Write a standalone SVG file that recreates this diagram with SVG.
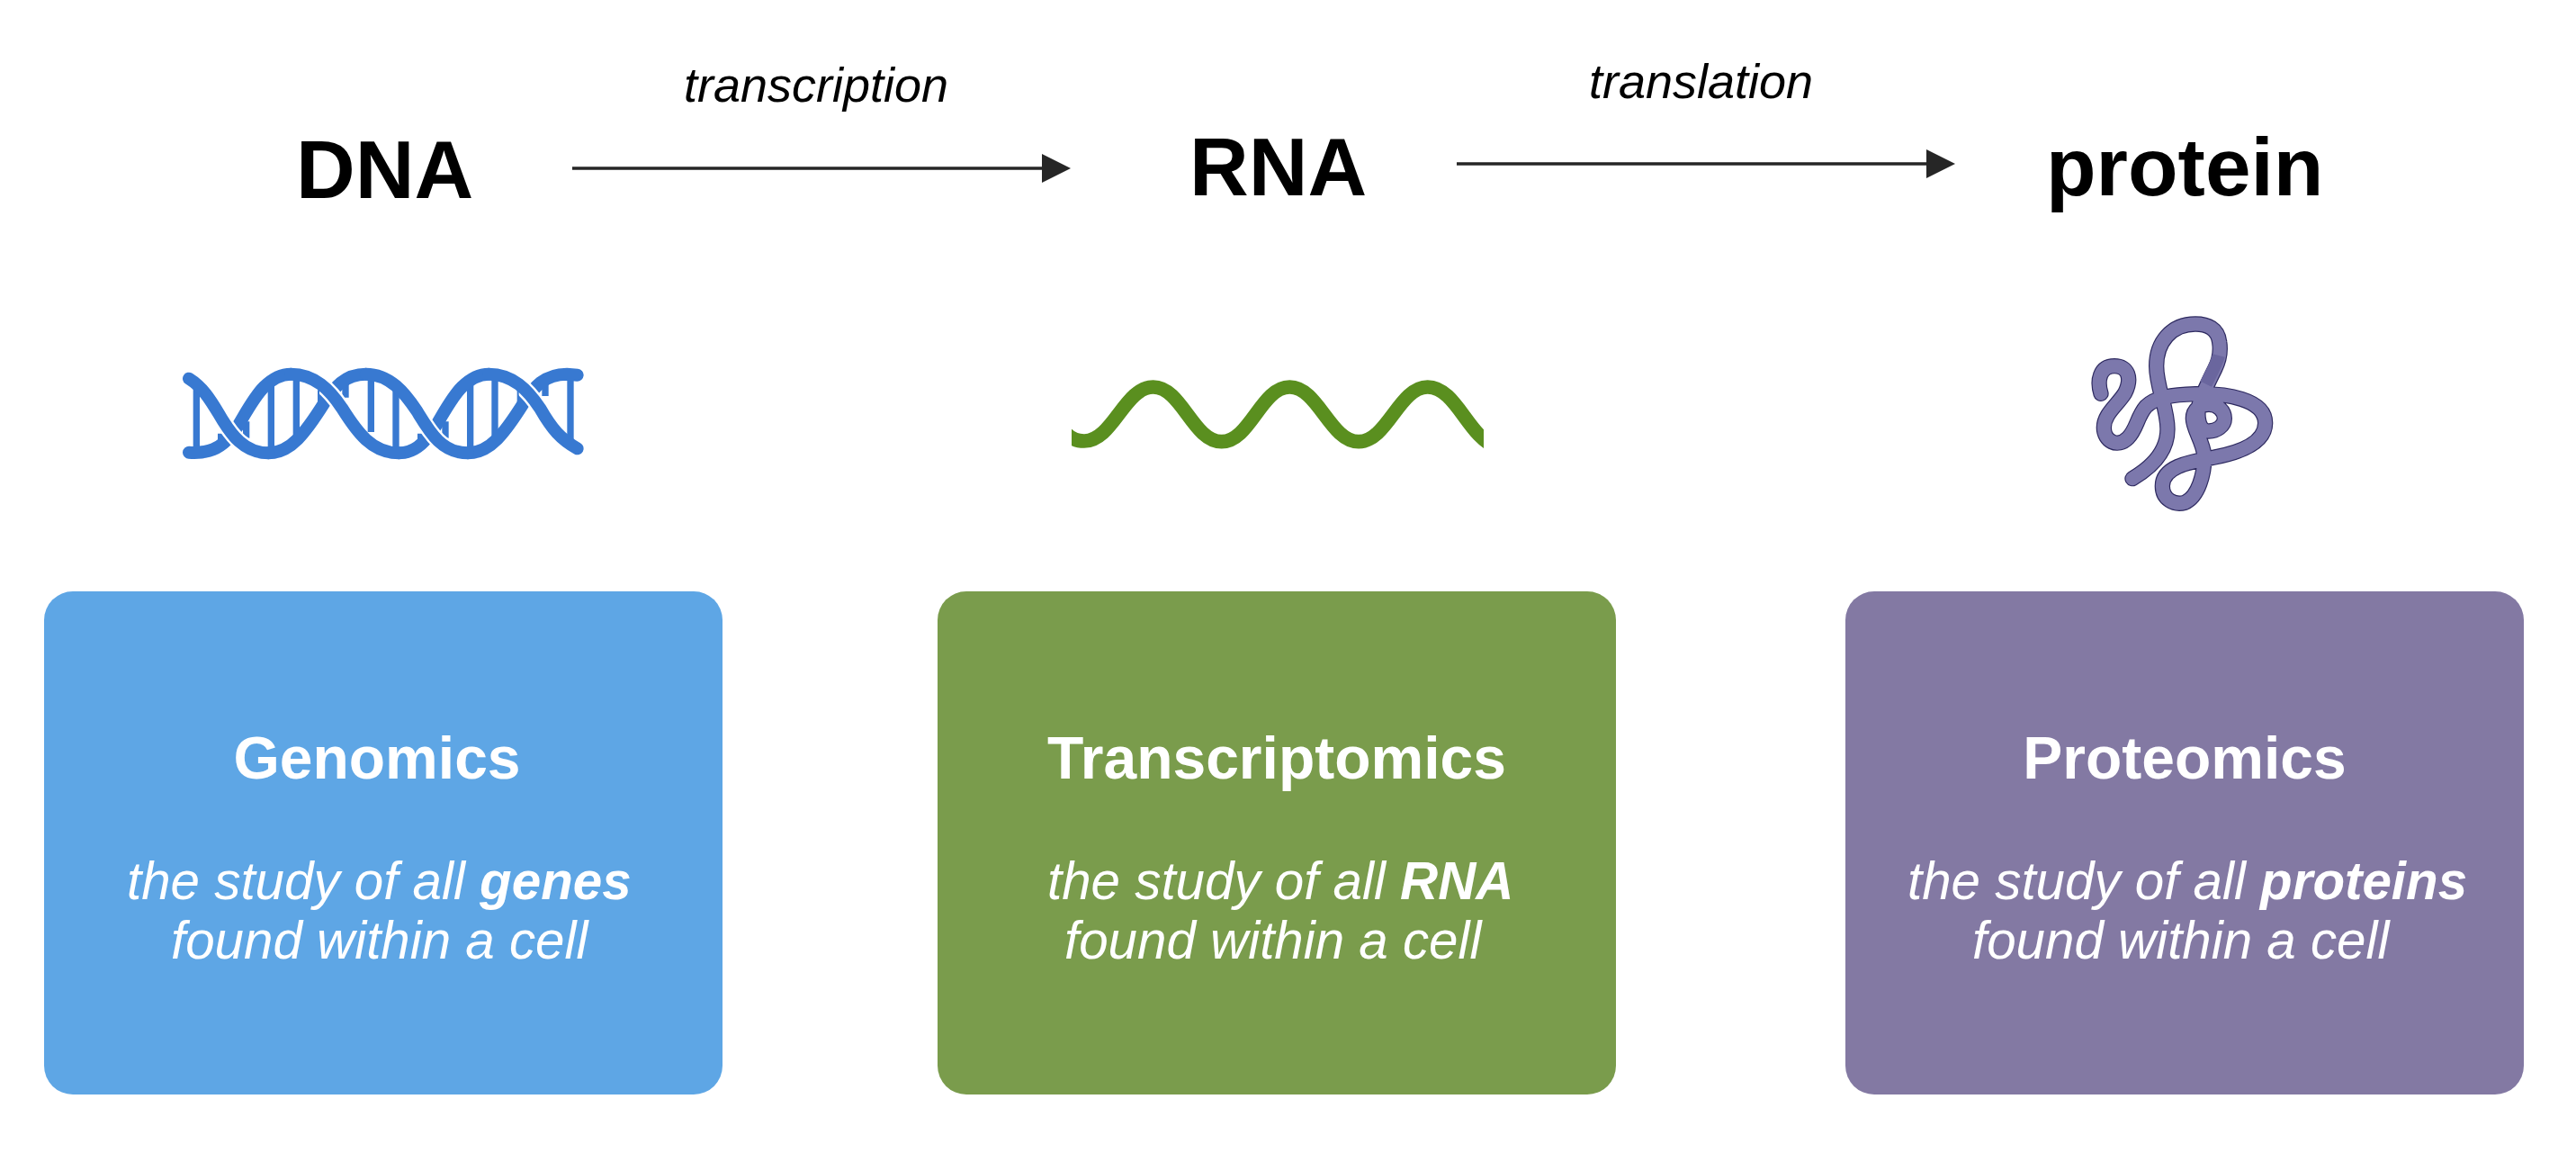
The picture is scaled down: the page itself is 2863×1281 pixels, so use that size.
<svg xmlns="http://www.w3.org/2000/svg" width="2863" height="1281" viewBox="0 0 2863 1281">
<style>
text{font-family:"Liberation Sans",Arial,sans-serif}
.head{font-size:91px;font-weight:700;fill:#000}
.rx{font-size:54px;font-style:italic;fill:#000}
.title{font-size:66px;font-weight:700;fill:#fff;text-anchor:middle}
.sub{font-size:58.3px;font-style:italic;fill:#fff}
.sub tspan{font-weight:700}
.box{stroke:none}
.conn{stroke:#262626;stroke-width:3.5;fill:none;marker-end:url(#ah)}
.dna{fill:none;stroke:#3879D1;stroke-width:42;stroke-linecap:round}
.halo{fill:none;stroke:#fff;stroke-width:56;stroke-linecap:butt}
.rung{stroke:#3879D1;stroke-width:22;fill:none}
.rna{fill:none;stroke:#5A8F1F;stroke-width:47}
.po{fill:none;stroke:#2E2A60;stroke-width:52;stroke-linecap:round;stroke-linejoin:round}
.pi{fill:none;stroke:#7C78AC;stroke-width:45;stroke-linecap:round;stroke-linejoin:round}
.ps{fill:none;stroke:#6A669E;stroke-width:42}
</style>
<defs>
<marker id="ah" markerUnits="userSpaceOnUse" markerWidth="32" markerHeight="32" refX="0" refY="16" orient="auto"><path d="M0,0L32,16L0,32Z" fill="#262626"/></marker>
<clipPath id="dnaclip"><rect x="185" y="245" width="115" height="115"/><rect x="525" y="110" width="90" height="110"/><rect x="845" y="245" width="115" height="115"/><rect x="1190" y="110" width="90" height="110"/></clipPath>
<clipPath id="rnaclip"><rect x="63" y="0" width="1374" height="340"/></clipPath>
<path id="tubepath" d="M105,322C92,280 100,230 150,230C195,230 210,270 185,320C160,360 115,390 115,435C115,480 160,505 195,470C225,440 225,400 255,365C285,335 340,325 420,323C520,320 653,340 653,420C653,490 560,520 480,535C400,550 310,565 310,630C310,675 350,695 385,685C430,665 450,590 450,530C445,480 412,440 412,405C412,375 435,358 465,358C495,358 517,380 517,405C517,430 490,447 465,447C428,447 425,395 432,360C440,330 470,270 485,240C500,210 505,180 500,150C495,105 460,90 420,90C340,90 290,150 290,230C290,300 327,370 327,440C327,520 270,570 210,605"/>
</defs>
<g id="connectors">
<line class="conn" x1="636" y1="187" x2="1158" y2="187"/>
<line class="conn" x1="1619" y1="182" x2="2141" y2="182"/>
</g>
<g id="label-transcription"><text class="rx" x="760" y="113">transcription</text></g>
<g id="label-translation"><text class="rx" x="1766" y="109">translation</text></g>
<g id="node-dna">
<text class="head" x="329" y="220">DNA</text>
<g transform="translate(180,380) scale(0.33333)">
<path class="rung" d="M115,150V355M197,305V350M281,265V320M364,130V355M448,110V340M530,160V215M612,125V185M697,110V300M780,140V355M863,305V350M945,265V320M1028,130V355M1110,110V340M1195,160V215M1278,125V180M1362,110V335"/>
<path class="dna" d="M90,368C150,372 195,360 240,300C265,265 300,190 340,150C370,120 400,107 430,107"/>
<path class="dna" d="M355,370C430,370 480,300 540,205C575,150 610,107 680,107"/>
<path class="dna" d="M790,370C840,370 870,340 900,300C925,265 960,190 1000,150C1030,120 1060,107 1090,107"/>
<path class="dna" d="M1020,370C1095,370 1145,300 1205,205C1240,150 1275,107 1350,107L1385,110"/>
<g clip-path="url(#dnaclip)">
<path class="halo" d="M90,122C135,150 160,190 190,240C230,310 275,370 355,370"/>
<path class="halo" d="M430,107C510,107 560,160 600,220C650,300 700,370 790,370"/>
<path class="halo" d="M680,107C760,107 810,170 850,230C890,295 930,370 1020,370"/>
<path class="halo" d="M1090,107C1170,107 1220,160 1260,220C1300,290 1330,325 1385,355"/>
</g>
<path class="dna" d="M90,122C135,150 160,190 190,240C230,310 275,370 355,370"/>
<path class="dna" d="M430,107C510,107 560,160 600,220C650,300 700,370 790,370"/>
<path class="dna" d="M680,107C760,107 810,170 850,230C890,295 930,370 1020,370"/>
<path class="dna" d="M1090,107C1170,107 1220,160 1260,220C1300,290 1330,325 1385,355"/>
</g>
</g>
<g id="node-rna">
<text class="head" x="1322" y="217">RNA</text>
<g transform="translate(1170,400) scale(0.33333)">
<g clip-path="url(#rnaclip)">
<path class="rna" d="M40,240C60,262 80,270 105,270C200,270 240,90 335,90C430,90 468,272 563,272C658,272 695,90 790,90C885,90 925,272 1020,272C1115,272 1155,90 1250,90C1345,90 1385,258 1480,290"/>
</g>
</g>
</g>
<g id="node-protein">
<text class="head" x="2274" y="217">protein</text>
<g transform="translate(2300,330) scale(0.33333)">
<use href="#tubepath" class="po"/>
<use href="#tubepath" class="pi"/>
<path class="ps" d="M498,195C490,225 470,260 455,290"/>
</g>
</g>
<g id="node-genomics">
<rect class="box" x="49" y="657" width="754" height="559" rx="32" fill="#5EA6E5"/>
<text class="title" x="419" y="865">Genomics</text>
<text class="sub" x="141" y="999">the study of all <tspan>genes</tspan></text>
<text class="sub" x="190" y="1065">found within a cell</text>
</g>
<g id="node-transcriptomics">
<rect class="box" x="1042" y="657" width="754" height="559" rx="32" fill="#7A9C4C"/>
<text class="title" x="1419" y="865">Transcriptomics</text>
<text class="sub" x="1164" y="999">the study of all <tspan>RNA</tspan></text>
<text class="sub" x="1183" y="1065">found within a cell</text>
</g>
<g id="node-proteomics">
<rect class="box" x="2051" y="657" width="754" height="559" rx="32" fill="#8379A3"/>
<text class="title" x="2428" y="865">Proteomics</text>
<text class="sub" x="2120" y="999">the study of all <tspan>proteins</tspan></text>
<text class="sub" x="2192" y="1065">found within a cell</text>
</g>
</svg>
